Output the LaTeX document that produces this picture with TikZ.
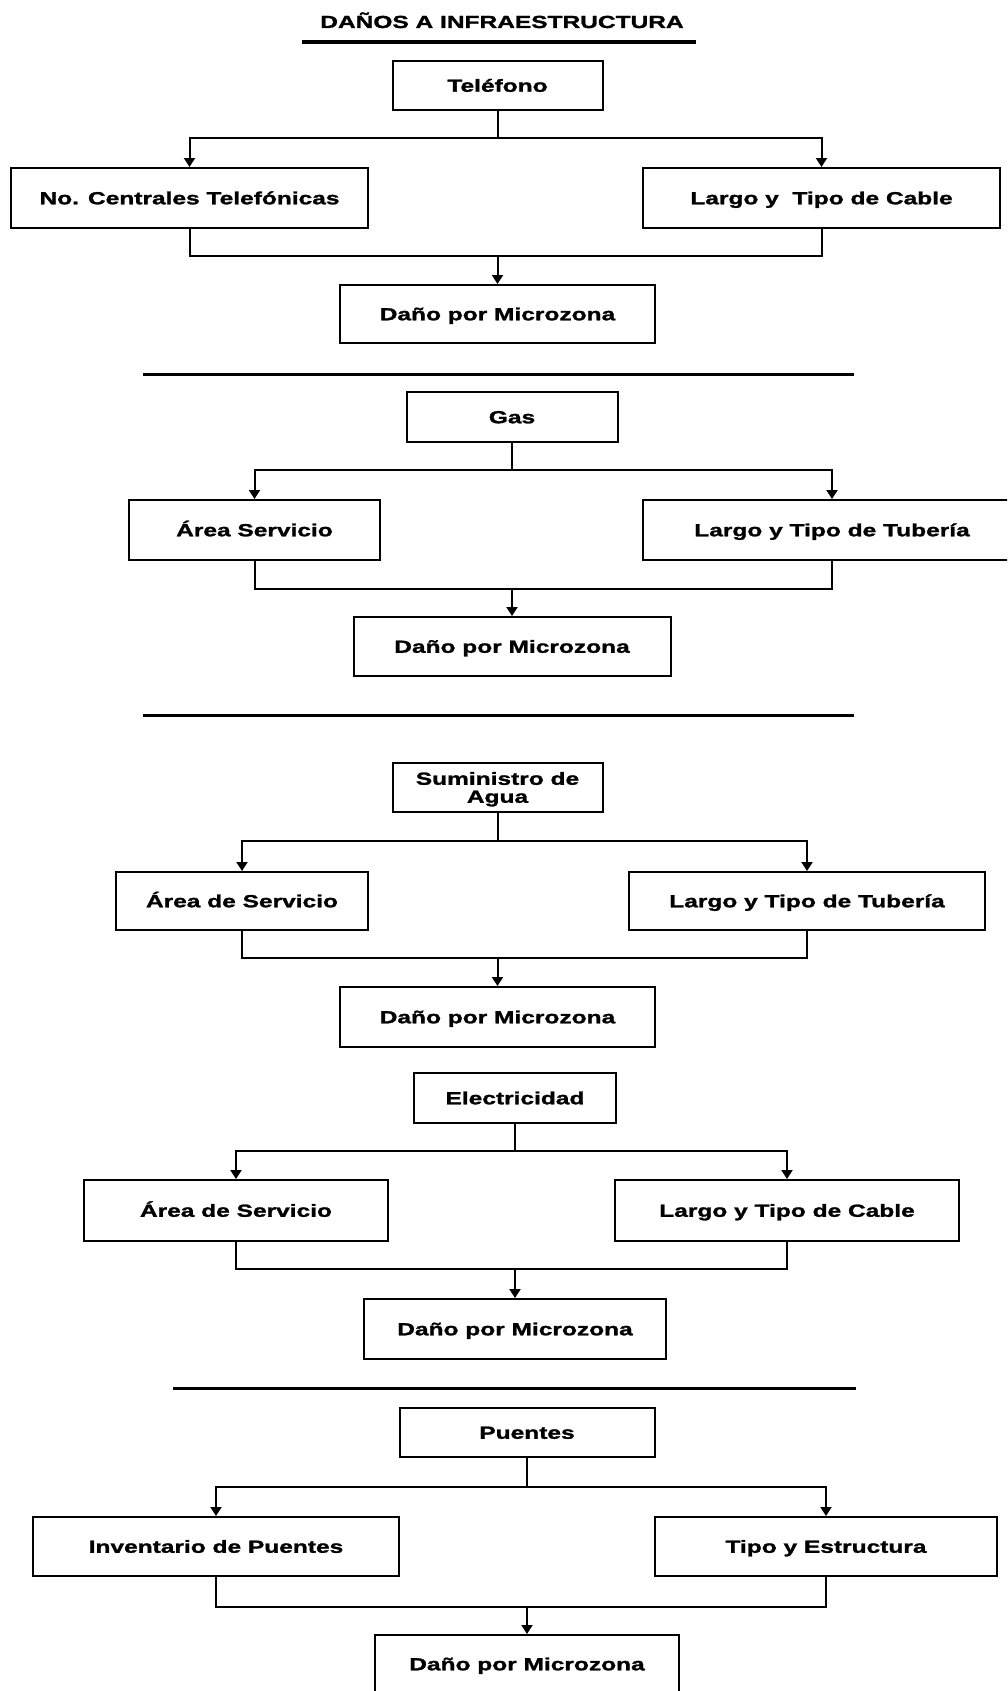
\documentclass[tikz,border=0pt]{standalone}
\usepackage{fontspec}
\usetikzlibrary{arrows.meta}
\newfontfamily\flowfont{Liberation Sans}[FakeStretch=1.4, FakeBold=1.5]
\newcommand{\boxtext}{\flowfont\bfseries\fontsize{17.5}{18}\selectfont}

\begin{document}
\begin{tikzpicture}[
  x=1pt, y=-1pt,
  box/.style={draw, line width=2pt, inner sep=0pt, font=\boxtext,
              text height=12.5pt, text depth=0pt, align=center},
  link/.style={line width=2pt},
  arr/.style={line width=2pt, -{Triangle[width=11pt,length=9pt]}},
  rule/.style={line width=3pt},
]
\useasboundingbox (0,0) rectangle (1007,1691);
\clip (0,0) rectangle (1007,1691);

% heading
\node[font=\boxtext, anchor=base] (title) at (502,28) {DAÑOS A INFRAESTRUCTURA};
\draw[line width=4pt] (302,42) -- (696,42);

% ---------- Teléfono ----------
\node[box, minimum width=210pt, minimum height=49pt] (tel) at (497.5,85.5) {Teléfono};
\node[box, minimum width=357pt, minimum height=60pt] (telL) at (189.5,198) {No. Centrales Telefónicas};
\node[box, minimum width=357pt, minimum height=60pt] (telR) at (821.5,198) {Largo y\ \ Tipo de Cable};
\node[box, minimum width=315pt, minimum height=58pt] (telD) at (497.5,314) {Daño por Microzona};
\coordinate (telS) at (tel.south |- 0,138);
\coordinate (telJ) at (telD.north |- 0,256);
\draw[link] (tel.south) -- (telS);
\draw[arr] (telS) -| (telL.north);
\draw[arr] (telS) -| (telR.north);
\draw[link] (telL.south) |- (telJ);
\draw[link] (telR.south) |- (telJ);
\draw[arr] (telJ) -- (telD.north);

\draw[rule] (143,374) -- (854,374);

% ---------- Gas ----------
\node[box, minimum width=211pt, minimum height=50pt] (gas) at (512,417) {Gas};
\node[box, minimum width=251pt, minimum height=60pt] (gasL) at (254.5,530) {Área Servicio};
\node[box, minimum width=378pt, minimum height=60pt] (gasR) at (832,530) {Largo y Tipo de Tubería};
\node[box, minimum width=317pt, minimum height=59pt] (gasD) at (512,646.5) {Daño por Microzona};
\coordinate (gasS) at (gas.south |- 0,470);
\coordinate (gasJ) at (gasD.north |- 0,589);
\draw[link] (gas.south) -- (gasS);
\draw[arr] (gasS) -| (gasL.north);
\draw[arr] (gasS) -| (gasR.north);
\draw[link] (gasL.south) |- (gasJ);
\draw[link] (gasR.south) |- (gasJ);
\draw[arr] (gasJ) -- (gasD.north);

\draw[rule] (143,715) -- (854,715);

% ---------- Suministro de Agua ----------
\node[box, minimum width=210pt, minimum height=49pt,
      text height=30.5pt, text depth=0pt] (agua) at (497.5,787.5) {Suministro de\\Agua};
\node[box, minimum width=252pt, minimum height=58pt] (aguaL) at (242,901) {Área de Servicio};
\node[box, minimum width=356pt, minimum height=58pt] (aguaR) at (807,901) {Largo y Tipo de Tubería};
\node[box, minimum width=315pt, minimum height=60pt] (aguaD) at (497.5,1017) {Daño por Microzona};
\coordinate (aguaS) at (agua.south |- 0,841);
\coordinate (aguaJ) at (aguaD.north |- 0,958);
\draw[link] (agua.south) -- (aguaS);
\draw[arr] (aguaS) -| (aguaL.north);
\draw[arr] (aguaS) -| (aguaR.north);
\draw[link] (aguaL.south) |- (aguaJ);
\draw[link] (aguaR.south) |- (aguaJ);
\draw[arr] (aguaJ) -- (aguaD.north);

% ---------- Electricidad ----------
\node[box, minimum width=202pt, minimum height=50pt] (elec) at (515,1098) {Electricidad};
\node[box, minimum width=304pt, minimum height=61pt] (elecL) at (236,1210.5) {Área de Servicio};
\node[box, minimum width=344pt, minimum height=61pt] (elecR) at (787,1210.5) {Largo y Tipo de Cable};
\node[box, minimum width=302pt, minimum height=60pt] (elecD) at (515,1329) {Daño por Microzona};
\coordinate (elecS) at (elec.south |- 0,1151);
\coordinate (elecJ) at (elecD.north |- 0,1269);
\draw[link] (elec.south) -- (elecS);
\draw[arr] (elecS) -| (elecL.north);
\draw[arr] (elecS) -| (elecR.north);
\draw[link] (elecL.south) |- (elecJ);
\draw[link] (elecR.south) |- (elecJ);
\draw[arr] (elecJ) -- (elecD.north);

\draw[rule] (173,1388) -- (856,1388);

% ---------- Puentes ----------
\node[box, minimum width=255pt, minimum height=49pt] (pue) at (527,1432.5) {Puentes};
\node[box, minimum width=366pt, minimum height=59pt] (pueL) at (216,1546.5) {Inventario de Puentes};
\node[box, minimum width=342pt, minimum height=59pt] (pueR) at (826,1546.5) {Tipo y Estructura};
\node[box, minimum width=304pt, minimum height=58pt] (pueD) at (527,1664) {Daño por Microzona};
\coordinate (pueS) at (pue.south |- 0,1487);
\coordinate (pueJ) at (pueD.north |- 0,1607);
\draw[link] (pue.south) -- (pueS);
\draw[arr] (pueS) -| (pueL.north);
\draw[arr] (pueS) -| (pueR.north);
\draw[link] (pueL.south) |- (pueJ);
\draw[link] (pueR.south) |- (pueJ);
\draw[arr] (pueJ) -- (pueD.north);
\end{tikzpicture}
\end{document}
